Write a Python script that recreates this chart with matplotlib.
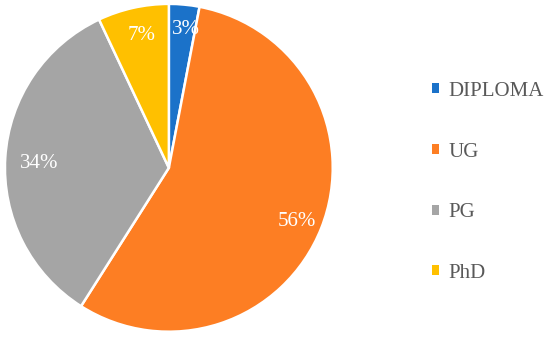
import matplotlib.pyplot as plt
import numpy as np
from matplotlib.patches import Patch

# Anteile je Abschluss (Prozent)
labels = ['DIPLOMA', 'UG', 'PG', 'PhD']
values = [3, 56, 34, 7]
colors = ['#1B72C9', '#FD7E23', '#A5A5A5', '#FFC000']
pct_dist = [0.87, 0.82, 0.81, 0.85]

plt.rcParams['font.family'] = ['Liberation Serif', 'DejaVu Serif']

fig = plt.figure(figsize=(5.5, 3.39), dpi=100)
ax = fig.add_axes([0.009, 0.021, 0.596, 0.968])

wedges, _ = ax.pie(values, colors=colors, startangle=90, counterclock=False,
                   wedgeprops=dict(edgecolor='white', linewidth=1.8))

# Prozent-Beschriftungen
for w, v, d in zip(wedges, values, pct_dist):
    ang = np.deg2rad((w.theta1 + w.theta2) / 2)
    ax.text(d * np.cos(ang) + 0.02, d * np.sin(ang) - 0.025, str(v) + '%',
            color='white', fontsize=15, ha='center', va='center')
ax.set_xlim(-1, 1)
ax.set_ylim(-1, 1)
ax.set_aspect('equal')

handles = [Patch(facecolor=c, edgecolor='none') for c in colors]
leg = fig.legend(handles, labels, loc='center left', bbox_to_anchor=(0.785, 0.462),
                 bbox_transform=fig.transFigure, frameon=False, fontsize=15,
                 handlelength=0.35, handleheight=0.35, handletextpad=0.45,
                 labelspacing=2.0, borderpad=0, borderaxespad=0)
for t in leg.get_texts():
    t.set_color('#595959')

fig.savefig('out.png', dpi=100)
